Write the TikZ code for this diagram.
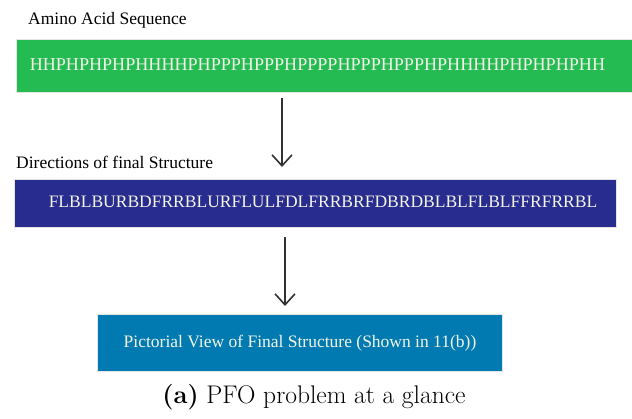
\documentclass[tikz,border=0pt]{standalone}
\usepackage{fontspec}
\newfontfamily\tnr{Liberation Serif}
\usetikzlibrary{arrows.meta}
\definecolor{seqgreen}{RGB}{36,187,82}
\definecolor{dirblue}{RGB}{40,44,142}
\definecolor{picteal}{RGB}{0,122,176}
\definecolor{boxtext}{RGB}{244,244,232}
\definecolor{arrgray}{RGB}{50,50,50}
\tikzset{
  box/.style={anchor=north west, inner sep=0pt, text=boxtext,
    font=\tnr\fontsize{17.5}{20}\selectfont, draw=white!80!gray, line width=0.6pt},
  boxtxt/.style={inner sep=0pt, text=boxtext, font=\tnr\fontsize{17.5}{20}\selectfont},
  lbl/.style={anchor=west, inner sep=0pt, font=\tnr\fontsize{17.5}{20}\selectfont},
  arr/.style={draw=arrgray, line width=1.6pt, -{Straight Barb[length=11pt,width=20pt,line width=1.6pt]}}
}
\begin{document}
\begin{tikzpicture}[x=1pt,y=-1pt]
\useasboundingbox (0,0) rectangle (632,418);
\node[lbl] (l1) at (28,20) {Amino Acid Sequence};
\node[box, fill=seqgreen, minimum width=616pt, minimum height=53pt] (seq) at (16,39) {};
\node[boxtxt, font=\tnr\fontsize{18.1}{20}\selectfont] (seqt) at (317.5,65) {HHPHPHPHPHHHHPHPPPHPPPHPPPPHPPPHPPPHPHHHHPHPHPHPHH};
\node[lbl] (l2) at (16,162) {Directions of final Structure};
\node[box, fill=dirblue, minimum width=602pt, minimum height=48pt] (dir) at (14,179) {};
\node[boxtxt] (dirt) at (323,202) {FLBLBURBDFRRBLURFLULFDLFRRBRFDBRDBLBLFLBLFFRFRRBL};
\node[box, fill=picteal, minimum width=405pt, minimum height=57pt] (pic) at (97,314) {};
\node[boxtxt] (pict) at (300,343) {Pictorial View of Final Structure (Shown in 11(b))};
\coordinate (a1s) at (282,98);
\coordinate (a1e) at (282,167);
\coordinate (a2s) at (285,237);
\coordinate (a2e) at (285,306);
\draw[arr] (a1s) -- (a1e);
\draw[arr] (a2s) -- (a2e);
\node[inner sep=0pt, font=\fontsize{25.5}{30}\selectfont] (cap) at (314,397) {\textbf{(a)} PFO problem at a glance};
\end{tikzpicture}
\end{document}
